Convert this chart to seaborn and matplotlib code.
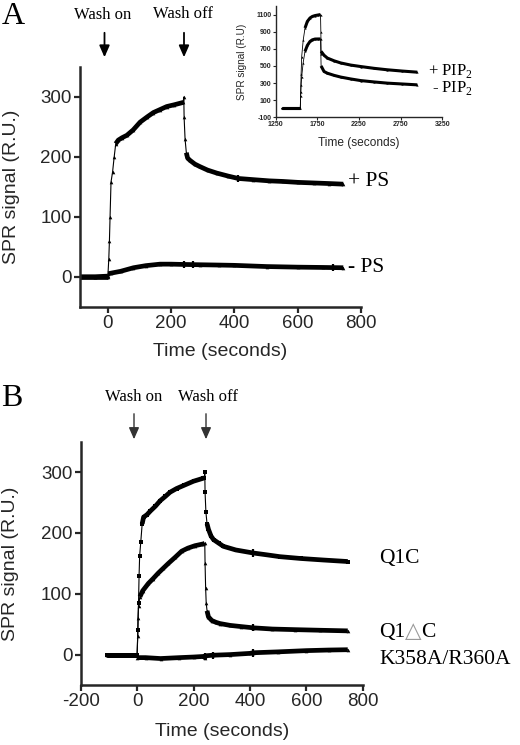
import numpy as np
import pandas as pd
import matplotlib
matplotlib.use("Agg")
import matplotlib.pyplot as plt
import seaborn as sns

# ---- panel A: main traces (time in s, signal in R.U.)
ps_plus_t = [-88, -40, 0, 3, 5, 7, 10, 15, 20, 25, 33, 45, 60, 80, 102, 125, 144, 165,
             186, 210, 239, 240, 241, 244, 248, 252, 260, 275, 290, 315, 344, 380, 412,
             460, 510, 554, 600, 650, 700, 744]
ps_plus_v = [0, 0, 0, 30, 60, 100, 158, 175, 200, 222, 228, 232, 236, 245, 258, 267, 274,
             279, 284, 287, 291, 300, 266, 230, 207, 198, 194, 188, 184, 178, 173, 168, 164,
             162, 160, 159, 157.5, 156.5, 155.5, 154.5]
ps_minus_t = [-88, -40, 0, 1, 10, 40, 81, 120, 165, 200, 240, 291, 350, 400, 502, 600, 680, 744]
ps_minus_v = [0, 0, 1, 5, 6, 9, 15, 18.5, 21, 21, 20.5, 20, 19.5, 19, 17, 16, 15.5, 15]
a_err_t = [412, 240, 270, 710]
a_err_v = [164, 20.5, 19.8, 15.2]

# ---- panel A inset
pip_t = [1320, 1400, 1500, 1545, 1550, 1555, 1562, 1580, 1602, 1630, 1662, 1690, 1722, 1760,
         1788, 1792, 1795, 1830, 1870, 1950, 2030, 2150, 2270, 2430, 2590, 2770, 2950]
pip_plus_v = [5, 5, 5, 5, 200, 400, 610, 800, 943, 1020, 1060, 1078, 1088, 1095, 1100, 900,
              670, 625, 592, 560, 535, 510, 493, 472, 455, 440, 427]
pip_minus_v = [5, 5, 5, 5, 150, 280, 376, 540, 670, 740, 786, 805, 814, 815, 815, 640,
               500, 435, 415, 390, 370, 348, 329, 313, 299, 289, 279]

# ---- panel B
q1c_t = [-106, -50, 0, 3, 5, 7, 9, 13, 18, 23, 35, 47, 65, 82, 100, 117, 140, 165, 200, 235,
         239, 240, 241, 244, 248, 253, 262, 271, 290, 306, 350, 412, 460, 506, 580, 660, 747]
q1c_v = [0, 0, 0, 40, 84, 130, 162, 185, 215, 226, 230, 236, 244, 253, 260, 267, 273, 278,
         285, 290, 291, 301, 267, 234, 215, 206, 195, 189, 183, 178, 172, 167, 164, 161, 158,
         155.5, 153]
q1dc_t = [-106, -50, 0, 2, 3, 5, 10, 20, 40, 57, 75, 93, 111, 135, 158, 180, 205, 235, 240,
          241, 243, 245, 248, 253, 265, 280, 294, 330, 370, 412, 480, 560, 650, 747]
q1dc_v = [0, 0, 0, 30, 60, 80, 95, 105, 117, 125, 134, 142, 150, 160, 170, 175, 179, 182, 183,
          150, 110, 85, 72, 62, 56, 53, 51, 48, 46, 44, 42, 41, 40, 39]
mut_t = [-106, -50, 0, 1, 30, 83, 150, 200, 238, 240, 242, 270, 330, 400, 412, 500, 600, 680, 747]
mut_v = [0, 0, 0, -5, -5, -6.5, -5, -4, -3, -5, -2, -1, 0, 2, 3, 4.5, 6.5, 7.5, 8]
b_err_t = [412, 412, 240, 270, 412]
b_err_v = [167, 44, -3, -1, 2.5]

sns.set_style("ticks")
plt.rcParams["font.family"] = ["Liberation Sans", "DejaVu Sans"]
plt.rcParams["axes.unicode_minus"] = False
plt.rcParams["mathtext.fontset"] = "custom"
plt.rcParams["mathtext.rm"] = "Liberation Serif"
SERIF = ["Liberation Serif", "DejaVu Serif"]

W, H = 520, 745
fig = plt.figure(figsize=(W / 100, H / 100), dpi=100)


def box(x0, y0, x1, y1):
    # pixel box (top-left origin) -> figure fraction rect
    return [x0 / W, 1 - y1 / H, (x1 - x0) / W, (y1 - y0) / H]


def trace(ax, t, v, steep, lw_thick=3.4, lw_thin=0.8, ms=2.6, marker="^"):
    """thin line + markers everywhere, thick line where the curve is slow"""
    df = pd.DataFrame({"t": t, "v": v})
    sns.lineplot(data=df, x="t", y="v", ax=ax, color="black", lw=lw_thin,
                 marker=marker, markersize=ms, markeredgewidth=0, sort=False)
    slope = np.abs(np.diff(df["v"]) / np.diff(df["t"]))
    run = []
    for i, s in enumerate(slope):
        if s < steep:
            if not run:
                run = [i]
            run.append(i + 1)
        else:
            if run:
                sub = df.iloc[run]
                sns.lineplot(data=sub, x="t", y="v", ax=ax, color="black",
                             lw=lw_thick, sort=False, solid_capstyle="butt")
            run = []
    if run:
        sub = df.iloc[run]
        sns.lineplot(data=sub, x="t", y="v", ax=ax, color="black",
                     lw=lw_thick, sort=False, solid_capstyle="butt")


def style_main(ax):
    sns.despine(ax=ax)
    for s in ["left", "bottom"]:
        ax.spines[s].set_linewidth(1.8)
    ax.tick_params(length=4, width=1.6, labelsize=13.5, pad=2)
    ax.set_ylim(-50, 350)
    ax.set_yticks([0, 100, 200, 300])
    ax.set_ylabel("SPR signal (R.U.)", fontsize=14)
    ax.set_xlabel("Time (seconds)", fontsize=14)


# ---------------- panel A
axA = fig.add_axes(box(80, 67, 361, 306.7))
trace(axA, ps_plus_t, ps_plus_v, steep=3)
trace(axA, ps_minus_t, ps_minus_v, steep=3)
axA.errorbar(a_err_t, a_err_v, yerr=6, fmt="none", ecolor="black", elinewidth=1.6)
style_main(axA)
axA.set_xlim(-88, 800)
axA.set_xticks([0, 200, 400, 600, 800])
axA.yaxis.set_label_coords(-0.215, 0.5)
axA.xaxis.set_label_coords(0.498, -0.152)

# inset
axI = fig.add_axes(box(275.7, 6, 442.3, 117.3))
trace(axI, pip_t, pip_plus_v, steep=4, lw_thick=2.2, lw_thin=0.6, ms=1.6)
trace(axI, pip_t, pip_minus_v, steep=4, lw_thick=2.2, lw_thin=0.6, ms=1.6)
sns.despine(ax=axI)
for s in ["left", "bottom"]:
    axI.spines[s].set_linewidth(1.0)
axI.set_xlim(1250, 3250)
axI.set_ylim(-100, 1200)
axI.set_xticks([1250, 1750, 2250, 2750, 3250])
axI.set_yticks([-100, 100, 300, 500, 700, 900, 1100])
axI.tick_params(length=2, width=0.8, labelsize=5, pad=1)
for lab in axI.get_xticklabels() + axI.get_yticklabels():
    lab.set_fontweight("bold")
axI.set_xlabel("Time (seconds)", fontsize=8.6)
axI.set_ylabel("SPR signal (R.U)", fontsize=7.2)
axI.xaxis.set_label_coords(0.5, -0.18)
axI.yaxis.set_label_coords(-0.17, 0.5)

# ---------------- panel B
axB = fig.add_axes(box(80.7, 441.7, 362.7, 685))
trace(axB, q1c_t, q1c_v, steep=3, marker="s", ms=2.2)
trace(axB, q1dc_t, q1dc_v, steep=3)
trace(axB, mut_t, mut_v, steep=3)
axB.errorbar(b_err_t, b_err_v, yerr=6, fmt="none", ecolor="black", elinewidth=1.6)
style_main(axB)
axB.set_xlim(-200, 800)
axB.set_xticks([-200, 0, 200, 400, 600, 800])
axB.yaxis.set_label_coords(-0.218, 0.5)
axB.xaxis.set_label_coords(0.5, -0.155)


# ---------------- annotations (figure pixels)
def ftext(x, y, s, size, ha="left", va="center", color="black", family=SERIF):
    fig.text(x / W, 1 - y / H, s, fontsize=size, ha=ha, va=va,
             color=color, family=family)


def farrow(x, y0, y1, lw, color="black"):
    fig.add_artist(matplotlib.patches.FancyArrowPatch(
        (x / W, 1 - y0 / H), (x / W, 1 - y1 / H), transform=fig.transFigure,
        arrowstyle="-|>,head_length=0.5,head_width=0.22", mutation_scale=14,
        lw=lw, color=color))


ftext(2, 16, "A", 23)
ftext(103, 15, "Wash on", 12, ha="center")
ftext(183, 14, "Wash off", 12, ha="center")
farrow(104.5, 30, 60, 1.3)
farrow(184, 30, 60, 1.3)
ftext(348, 182, "+ PS", 15.5)
ftext(348, 267, "- PS", 15.5)
ftext(428, 75, r"+ PIP$_\mathrm{2}$", 12, va="baseline")
ftext(432, 92, r"- PIP$_\mathrm{2}$", 12, va="baseline")

ftext(1, 399, "B", 23)
ftext(134, 397, "Wash on", 12, ha="center")
ftext(208, 397, "Wash off", 12, ha="center")
farrow(134, 411, 442, 1.0, color="#333333")
farrow(206, 411, 442, 1.0, color="#333333")
ftext(379, 558, "Q1C", 15.5)
ftext(379, 637, "Q1", 15.5, va="baseline")
ftext(405, 637, "\u25b3", 15.5, va="baseline", color="#999999", family=["DejaVu Sans"])
ftext(421, 637, "C", 15.5, va="baseline")
ftext(379, 659, "K358A/R360A", 15.5)

fig.savefig("out.png", dpi=100)
